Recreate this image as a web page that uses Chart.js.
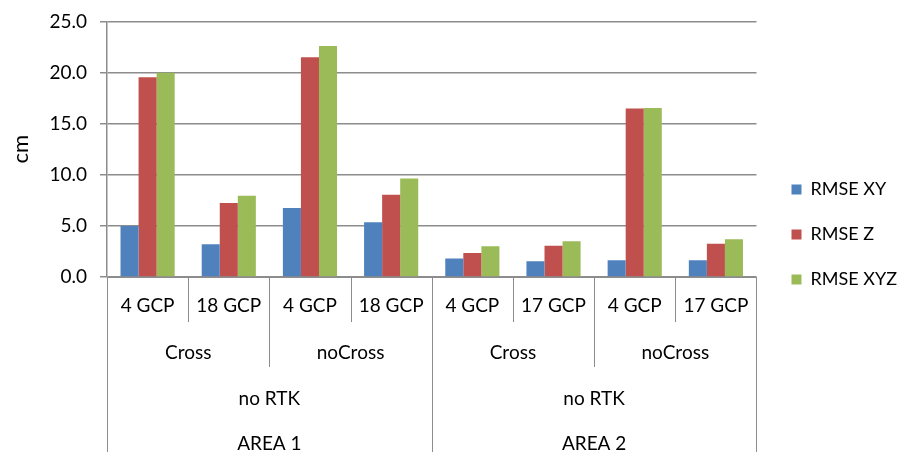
<!DOCTYPE html>
<html>
<head>
<meta charset="utf-8">
<script src="https://cdn.jsdelivr.net/npm/chart.js@4/dist/chart.umd.min.js"></script>
<style>
  html, body { margin: 0; padding: 0; background: #fff; }
  #wrap { width: 909px; height: 452px; position: relative; }
</style>
</head>
<body>
<div id="wrap"><canvas id="myChart"></canvas></div>
<script>
// category levels, innermost first
const gcpLabels = ['4 GCP', '18 GCP', '4 GCP', '18 GCP', '4 GCP', '17 GCP', '4 GCP', '17 GCP'];
const crossLabels = ['Cross', 'noCross', 'Cross', 'noCross'];
const rtkLabels = ['no RTK', 'no RTK'];
const areaLabels = ['AREA 1', 'AREA 2'];

// series (cm)
const rmseXY = [5.0, 3.2, 6.75, 5.35, 1.8, 1.55, 1.65, 1.65];
const rmseZ = [19.55, 7.25, 21.5, 8.05, 2.35, 3.05, 16.5, 3.25];
const rmseXYZ = [20.0, 7.95, 22.6, 9.65, 3.0, 3.5, 16.55, 3.7];

const yTicks = [0, 5, 10, 15, 20, 25];

const FONT = 'Lato, "Open Sans", sans-serif';
const GRID = '#8c8c8c';

// draws the grouped category labels under the x axis
const multiLevelAxis = {
    id: 'multiLevelAxis',
    afterDraw(chart) {
        const sx = chart.scales.x;
        const ctx = chart.ctx;
        const top = sx.top;
        const n = gcpLabels.length;
        const edge = i => sx.getPixelForValue(i - 0.5);
        ctx.save();
        ctx.strokeStyle = GRID;
        ctx.lineWidth = 1;
        for (let b = 0; b <= n; b++) {
            let depth = 45;
            if (b % 4 === 0) depth = 180;
            else if (b % 2 === 0) depth = 90;
            const xx = Math.round(edge(b)) + 0.5;
            ctx.beginPath();
            ctx.moveTo(xx, top);
            ctx.lineTo(xx, top + depth);
            ctx.stroke();
        }
        ctx.fillStyle = '#000';
        ctx.font = '19px ' + FONT;
        ctx.textAlign = 'center';
        ctx.textBaseline = 'middle';
        const rows = [
            { labels: gcpLabels, y: 29 },
            { labels: crossLabels, y: 76 },
            { labels: rtkLabels, y: 122 },
            { labels: areaLabels, y: 167 }
        ];
        rows.forEach(row => {
            const span = n / row.labels.length;
            row.labels.forEach((lab, k) => {
                const cx = (edge(k * span) + edge((k + 1) * span)) / 2;
                ctx.fillText(lab, cx, top + row.y);
            });
        });
        ctx.restore();
    }
};

let canvas = document.getElementById('myChart');
var ctx = canvas.getContext('2d');
var chart = new Chart(ctx, {
    type: 'bar',
    data: {
        labels: gcpLabels,
        datasets: [{
                label: 'RMSE XY',
                backgroundColor: '#4F81BD',
                data: rmseXY,
            }, {
                label: 'RMSE Z',
                backgroundColor: '#C0504D',
                data: rmseZ,
            }, {
                label: 'RMSE XYZ',
                backgroundColor: '#9BBB59',
                data: rmseXYZ,
            }],
    },
    options: {
        responsive: true,
        maintainAspectRatio: false,
        animation: false,
        layout: { padding: { top: 17, left: 0, right: 2, bottom: 0 } },
        datasets: {
            bar: { categoryPercentage: 0.667, barPercentage: 1.0 }
        },
        scales: {
            x: {
                offset: true,
                grid: { display: false },
                border: { display: true, color: GRID, width: 1 },
                ticks: { display: false },
                afterFit(scale) { scale.height = 175; }
            },
            y: {
                min: 0,
                max: 25,
                afterBuildTicks(scale) { scale.ticks = yTicks.map(v => ({ value: v })); },
                grid: { color: GRID, lineWidth: 1.5, tickLength: 7 },
                border: { display: true, color: GRID, width: 1.5 },
                ticks: {
                    color: '#000',
                    padding: 13,
                    font: { family: FONT, size: 19, lineHeight: 0.9 },
                    callback: v => v.toFixed(1)
                },
                title: {
                    display: true,
                    text: 'cm',
                    color: '#000',
                    font: { family: FONT, size: 22 },
                    padding: { top: 8, bottom: 4 }
                },
                afterFit(scale) { scale.width = 107; }
            },
            // empty spacer between the plot and the legend
            gap: {
                position: 'right',
                display: true,
                grid: { display: false },
                border: { display: false },
                ticks: { display: false },
                afterFit(scale) { scale.width = 8; }
            }
        },
        plugins: {
            legend: {
                position: 'right',
                align: 'center',
                labels: {
                    boxWidth: 10,
                    boxHeight: 10,
                    padding: 27,
                    color: '#000',
                    font: { family: FONT, size: 18 }
                }
            },
            tooltip: { enabled: false }
        }
    },
    plugins: [multiLevelAxis]
});
</script>
</body>
</html>
